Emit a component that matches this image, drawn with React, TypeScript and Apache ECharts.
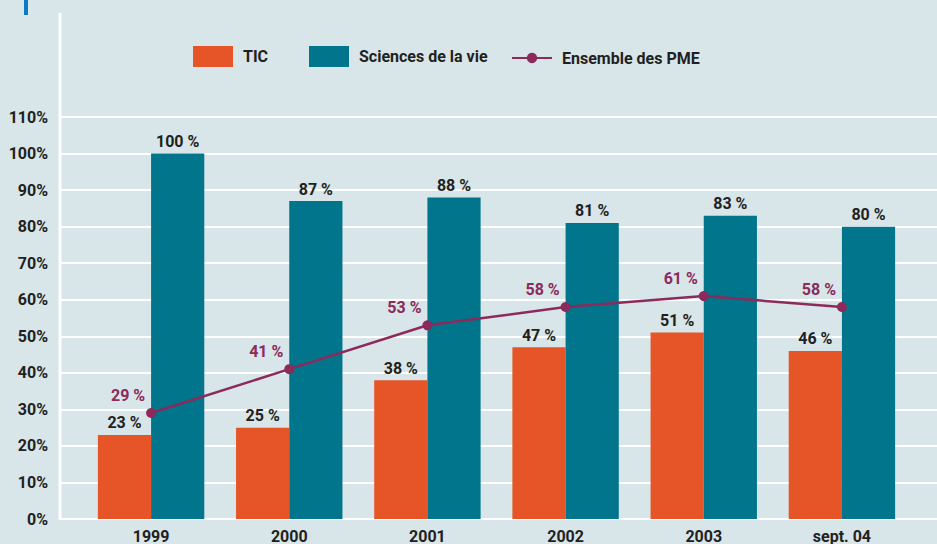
import React, { useEffect, useRef } from "react";
import * as echarts from "echarts";

const categories = ["1999", "2000", "2001", "2002", "2003", "sept. 04"];
const ticValues = [23, 25, 38, 47, 51, 46];
const sciencesValues = [100, 87, 88, 81, 83, 80];
const pmeValues = [29, 41, 53, 58, 61, 58];
const yTicks = [0, 10, 20, 30, 40, 50, 60, 70, 80, 90, 100, 110];

const FONT = "Roboto, 'Liberation Sans', sans-serif";
const TEXT = "#231f20";
const ORANGE = "#e55527";
const TEAL = "#00758c";
const MAROON = "#8b2a5b";
const BG = "#d8e5e9";

export default function App() {
  const ref = useRef<HTMLDivElement>(null);
  useEffect(() => {
    if (!ref.current) return;
    const chart = echarts.init(ref.current, undefined, { renderer: "svg" });
    const yMax = yTicks[yTicks.length - 1];
    const labelBase = {
      show: true,
      fontFamily: FONT,
      fontWeight: "bold",
      fontSize: 16,
    };
    const legendText = { fontFamily: FONT, fontWeight: "bold", fontSize: 16, color: TEXT, padding: [0, 0, 0, 5] };
    chart.setOption({
      animation: false,
      backgroundColor: BG,
      textStyle: { fontFamily: FONT },
      graphic: [
        { type: "rect", shape: { x: 24, y: 0, width: 4, height: 15 }, style: { fill: "#0a7ac4" } },
        { type: "line", shape: { x1: 60, y1: 13, x2: 60, y2: 520 }, style: { stroke: "#ffffff", lineWidth: 3 }, z: 10 },
      ],
      legend: [
        { data: [{ name: "TIC", icon: "rect" }], left: 193, top: 46, padding: 0, itemWidth: 40, itemHeight: 21, textStyle: legendText },
        { data: [{ name: "Sciences de la vie", icon: "rect" }], left: 309, top: 46, padding: 0, itemWidth: 40, itemHeight: 21, textStyle: legendText },
        { data: ["Ensemble des PME"], left: 511, top: 50, padding: 0, itemWidth: 40, itemHeight: 13, textStyle: legendText },
      ],
      grid: [
        { left: 60, right: 0, top: 117, bottom: 25 },
        { left: 82, right: 26, top: 117, bottom: 25 },
      ],
      xAxis: [
        { gridIndex: 0, type: "value", min: 0, max: 1, show: false },
        {
          gridIndex: 1,
          type: "category",
          data: categories,
          axisLine: { show: false },
          axisTick: { show: false },
          axisLabel: { margin: 9, fontFamily: FONT, fontWeight: "bold", fontSize: 16, color: TEXT },
        },
      ],
      yAxis: [
        {
          gridIndex: 0,
          type: "value",
          min: 0,
          max: yMax,
          interval: 10,
          axisLine: { show: false },
          axisTick: { show: false },
          splitLine: { lineStyle: { color: "#ffffff", width: 2 } },
          axisLabel: { formatter: "{value}%", margin: 12, fontFamily: FONT, fontWeight: "bold", fontSize: 16, color: TEXT },
        },
        { gridIndex: 1, type: "value", min: 0, max: yMax, show: false },
      ],
      series: [
        {
          name: "TIC",
          type: "bar",
          xAxisIndex: 1,
          yAxisIndex: 1,
          data: ticValues,
          barGap: "0%",
          barCategoryGap: "23%",
          itemStyle: { color: ORANGE },
          label: { ...labelBase, position: "top", distance: 4, color: TEXT, formatter: "{c} %" },
        },
        {
          name: "Sciences de la vie",
          type: "bar",
          xAxisIndex: 1,
          yAxisIndex: 1,
          data: sciencesValues,
          barGap: "0%",
          barCategoryGap: "23%",
          itemStyle: { color: TEAL },
          label: { ...labelBase, position: "top", distance: 4, color: TEXT, formatter: "{c} %" },
        },
        {
          name: "Ensemble des PME",
          type: "line",
          xAxisIndex: 1,
          yAxisIndex: 1,
          data: pmeValues,
          symbol: "circle",
          symbolSize: 10,
          itemStyle: { color: MAROON },
          lineStyle: { color: MAROON, width: 2.5 },
          label: { ...labelBase, position: "top", distance: 5, offset: [-23, 0], color: MAROON, formatter: "{c} %" },
          z: 5,
        },
      ],
    });
    return () => chart.dispose();
  }, []);
  return <div ref={ref} style={{ width: 937, height: 544, position: "absolute", left: 0, top: 0 }} />;
}
